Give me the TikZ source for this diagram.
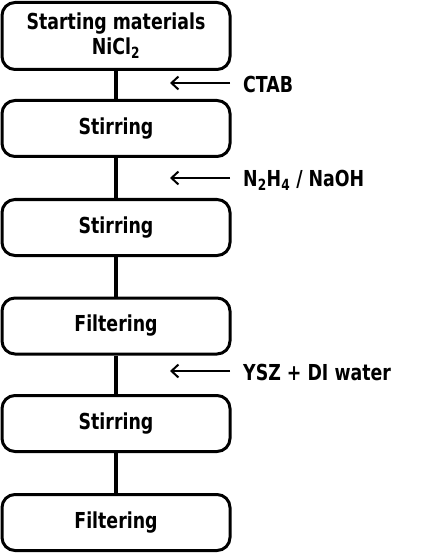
\documentclass[tikz,border=0pt]{standalone}
\usepackage{fontspec}
\setmainfont{DejaVu Sans}[FakeStretch=0.79]
\usetikzlibrary{arrows.meta}

\tikzset{
  stepbox/.style={draw, line width=3pt, rounded corners=13pt,
    minimum width=228pt, minimum height=56pt, inner sep=0pt,
    font=\fontsize{22}{25}\selectfont\bfseries, align=center},
  addlabel/.style={anchor=west, inner sep=0pt,
    font=\fontsize{22}{25}\selectfont\bfseries},
  flow/.style={line width=3.2pt},
  feed/.style={line width=2pt, -{Straight Barb[length=7pt,width=13pt,line width=2pt]}}
}

\begin{document}
\begin{tikzpicture}[x=1pt,y=-1pt]
  \useasboundingbox (0,0) rectangle (421,553);
  % process steps
  \node[stepbox, minimum height=67pt] (start) at (116,36) {Starting materials\\NiCl\textsubscript{2}};
  \node[stepbox] (stir1) at (116,128.5) {Stirring};
  \node[stepbox] (stir2) at (116,227.5) {Stirring};
  \node[stepbox] (filt1) at (116,326) {Filtering};
  \node[stepbox] (stir3) at (116,423.5) {Stirring};
  \node[stepbox] (filt2) at (116,522.5) {Filtering};
  \draw[flow] (start) -- (stir1);
  \draw[flow] (stir1) -- (stir2);
  \draw[flow] (stir2) -- (filt1);
  \draw[flow] (filt1) -- (stir3);
  \draw[flow] (stir3) -- (filt2);
  % additives
  \node[addlabel] (ctab) at (243,84) {CTAB};
  \node[addlabel] (hydr) at (243,180) {N\textsubscript{2}H\textsubscript{4} / NaOH};
  \node[addlabel] (ysz) at (243,372) {YSZ + DI water};
  \coordinate (ctabin) at (170,83);
  \coordinate (hydrin) at (170,178);
  \coordinate (yszin) at (170,371);
  \draw[feed] (230,83) -- (ctabin);
  \draw[feed] (230,178) -- (hydrin);
  \draw[feed] (230,371) -- (yszin);
\end{tikzpicture}
\end{document}
